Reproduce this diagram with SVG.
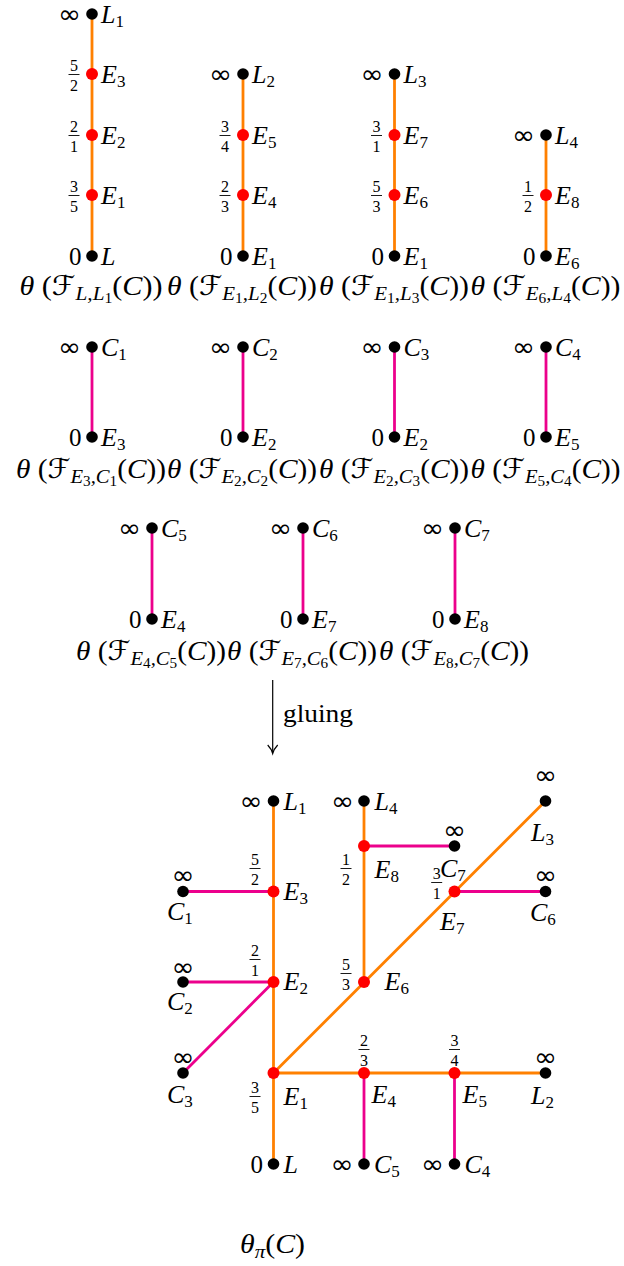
<svg xmlns="http://www.w3.org/2000/svg" width="624" height="1266" viewBox="0 0 624 1266">
<style>
text{font-family:"Liberation Serif","Times New Roman","DejaVu Serif",serif;fill:#000}
.l{font-size:26px;font-style:italic}
.s{font-size:17px;font-style:normal}
.n{font-size:25px}
.inf{font-family:"DejaVu Sans",sans-serif;font-size:26px}
.fr{font-size:16px;text-anchor:middle}
.fb{stroke:#000;stroke-width:0.9}
.cap{font-size:27px}
.i{font-style:italic}
.scr{font-family:"DejaVu Serif","DejaVu Sans",serif;font-style:italic}
.s1{font-size:19px;font-style:italic}
.s2{font-size:14px;font-style:normal}
.o{stroke:#FF8000;stroke-width:2.8;fill:none}
.m{stroke:#EC008C;stroke-width:2.8;fill:none}
.bd{fill:#000}
.rd{fill:#FF0000}
</style>
<defs>
<g id="inf"><text class="inf" text-anchor="middle" textLength="23" lengthAdjust="spacingAndGlyphs">∞</text></g>
</defs>

<g id="connectors">
<line class="o" x1="92" y1="14" x2="92" y2="256"/>
<line class="o" x1="243" y1="74" x2="243" y2="256"/>
<line class="o" x1="394.5" y1="74" x2="394.5" y2="256"/>
<line class="o" x1="546" y1="135" x2="546" y2="256"/>
<line class="m" x1="92" y1="347" x2="92" y2="437"/>
<line class="m" x1="243" y1="347" x2="243" y2="437"/>
<line class="m" x1="394.5" y1="347" x2="394.5" y2="437"/>
<line class="m" x1="546" y1="347" x2="546" y2="437"/>
<line class="m" x1="152" y1="528" x2="152" y2="619"/>
<line class="m" x1="303" y1="528" x2="303" y2="619"/>
<line class="m" x1="455" y1="528" x2="455" y2="619"/>
<line x1="272.7" y1="680" x2="272.7" y2="752" stroke="#000" stroke-width="1.2"/>
<path d="M267.7,745 Q271.5,749 272.7,753.5 Q273.9,749 277.7,745" stroke="#000" stroke-width="1.2" fill="none"/>
<line class="m" x1="183" y1="891.5" x2="273.5" y2="891.5"/>
<line class="m" x1="183" y1="982" x2="273.5" y2="982"/>
<line class="m" x1="183" y1="1073" x2="273.5" y2="982"/>
<line class="m" x1="364" y1="846" x2="454.5" y2="846"/>
<line class="m" x1="454.5" y1="891.5" x2="545.5" y2="891.5"/>
<line class="m" x1="364" y1="1073" x2="364" y2="1164"/>
<line class="m" x1="454.5" y1="1073" x2="454.5" y2="1164"/>
<line class="o" x1="273.5" y1="801" x2="273.5" y2="1164"/>
<line class="o" x1="273.5" y1="1073" x2="545.5" y2="801"/>
<line class="o" x1="273.5" y1="1073" x2="545.5" y2="1073"/>
<line class="o" x1="364" y1="801" x2="364" y2="982"/>
</g>

<g id="t1-L1"><circle class="bd" cx="92" cy="14" r="5.8"/><use href="#inf" x="69.5" y="23"/><text class="l" x="101" y="23">L<tspan class="s" dy="4">1</tspan></text></g>
<g id="t1-E3"><circle class="rd" cx="92" cy="74" r="6"/><text class="fr" x="74" y="71">5</text><line class="fb" x1="68.5" y1="74.5" x2="79.5" y2="74.5"/><text class="fr" x="74" y="90.5">2</text><text class="l" x="101" y="83">E<tspan class="s" dy="4">3</tspan></text></g>
<g id="t1-E2"><circle class="rd" cx="92" cy="135" r="6"/><text class="fr" x="74" y="132">2</text><line class="fb" x1="68.5" y1="135.5" x2="79.5" y2="135.5"/><text class="fr" x="74" y="151.5">1</text><text class="l" x="101" y="144">E<tspan class="s" dy="4">2</tspan></text></g>
<g id="t1-E1"><circle class="rd" cx="92" cy="195" r="6"/><text class="fr" x="74" y="192">3</text><line class="fb" x1="68.5" y1="195.5" x2="79.5" y2="195.5"/><text class="fr" x="74" y="211.5">5</text><text class="l" x="101" y="204">E<tspan class="s" dy="4">1</tspan></text></g>
<g id="t1-L"><circle class="bd" cx="92" cy="256" r="5.8"/><text class="n" x="81.5" y="265" text-anchor="end">0</text><text class="l" x="101" y="265">L</text></g>

<g id="t2-L2"><circle class="bd" cx="243" cy="74" r="5.8"/><use href="#inf" x="220.5" y="83"/><text class="l" x="252" y="83">L<tspan class="s" dy="4">2</tspan></text></g>
<g id="t2-E5"><circle class="rd" cx="243" cy="135" r="6"/><text class="fr" x="225" y="132">3</text><line class="fb" x1="219.5" y1="135.5" x2="230.5" y2="135.5"/><text class="fr" x="225" y="151.5">4</text><text class="l" x="252" y="144">E<tspan class="s" dy="4">5</tspan></text></g>
<g id="t2-E4"><circle class="rd" cx="243" cy="195" r="6"/><text class="fr" x="225" y="192">2</text><line class="fb" x1="219.5" y1="195.5" x2="230.5" y2="195.5"/><text class="fr" x="225" y="211.5">3</text><text class="l" x="252" y="204">E<tspan class="s" dy="4">4</tspan></text></g>
<g id="t2-E1"><circle class="bd" cx="243" cy="256" r="5.8"/><text class="n" x="232.5" y="265" text-anchor="end">0</text><text class="l" x="252" y="265">E<tspan class="s" dy="4">1</tspan></text></g>

<g id="t3-L3"><circle class="bd" cx="394.5" cy="74" r="5.8"/><use href="#inf" x="372" y="83"/><text class="l" x="403.5" y="83">L<tspan class="s" dy="4">3</tspan></text></g>
<g id="t3-E7"><circle class="rd" cx="394.5" cy="135" r="6"/><text class="fr" x="376.5" y="132">3</text><line class="fb" x1="371" y1="135.5" x2="382" y2="135.5"/><text class="fr" x="376.5" y="151.5">1</text><text class="l" x="403.5" y="144">E<tspan class="s" dy="4">7</tspan></text></g>
<g id="t3-E6"><circle class="rd" cx="394.5" cy="195" r="6"/><text class="fr" x="376.5" y="192">5</text><line class="fb" x1="371" y1="195.5" x2="382" y2="195.5"/><text class="fr" x="376.5" y="211.5">3</text><text class="l" x="403.5" y="204">E<tspan class="s" dy="4">6</tspan></text></g>
<g id="t3-E1"><circle class="bd" cx="394.5" cy="256" r="5.8"/><text class="n" x="384" y="265" text-anchor="end">0</text><text class="l" x="403.5" y="265">E<tspan class="s" dy="4">1</tspan></text></g>

<g id="t4-L4"><circle class="bd" cx="546" cy="135" r="5.8"/><use href="#inf" x="523.5" y="144"/><text class="l" x="555" y="144">L<tspan class="s" dy="4">4</tspan></text></g>
<g id="t4-E8"><circle class="rd" cx="546" cy="195" r="6"/><text class="fr" x="528" y="192">1</text><line class="fb" x1="522.5" y1="195.5" x2="533.5" y2="195.5"/><text class="fr" x="528" y="211.5">2</text><text class="l" x="555" y="204">E<tspan class="s" dy="4">8</tspan></text></g>
<g id="t4-E6"><circle class="bd" cx="546" cy="256" r="5.8"/><text class="n" x="535.5" y="265" text-anchor="end">0</text><text class="l" x="555" y="265">E<tspan class="s" dy="4">6</tspan></text></g>

<g id="captions1">
<text class="cap" x="91" y="295" text-anchor="middle" textLength="143" lengthAdjust="spacingAndGlyphs"><tspan class="i">θ</tspan> (<tspan class="scr">ℱ</tspan><tspan class="s1" dy="5">L,L</tspan><tspan class="s2" dy="3">1</tspan><tspan dy="-8">(</tspan><tspan class="i">C</tspan>))</text>
<text class="cap" x="242" y="295" text-anchor="middle" textLength="150" lengthAdjust="spacingAndGlyphs"><tspan class="i">θ</tspan> (<tspan class="scr">ℱ</tspan><tspan class="s1" dy="5">E</tspan><tspan class="s2" dy="3">1</tspan><tspan class="s1" dy="-3">,L</tspan><tspan class="s2" dy="3">2</tspan><tspan dy="-8">(</tspan><tspan class="i">C</tspan>))</text>
<text class="cap" x="394" y="295" text-anchor="middle" textLength="150" lengthAdjust="spacingAndGlyphs"><tspan class="i">θ</tspan> (<tspan class="scr">ℱ</tspan><tspan class="s1" dy="5">E</tspan><tspan class="s2" dy="3">1</tspan><tspan class="s1" dy="-3">,L</tspan><tspan class="s2" dy="3">3</tspan><tspan dy="-8">(</tspan><tspan class="i">C</tspan>))</text>
<text class="cap" x="545.5" y="295" text-anchor="middle" textLength="150" lengthAdjust="spacingAndGlyphs"><tspan class="i">θ</tspan> (<tspan class="scr">ℱ</tspan><tspan class="s1" dy="5">E</tspan><tspan class="s2" dy="3">6</tspan><tspan class="s1" dy="-3">,L</tspan><tspan class="s2" dy="3">4</tspan><tspan dy="-8">(</tspan><tspan class="i">C</tspan>))</text>
</g>

<g id="r2-C1"><circle class="bd" cx="92" cy="347" r="5.8"/><use href="#inf" x="69.5" y="356"/><text class="l" x="101" y="356">C<tspan class="s" dy="4">1</tspan></text></g>
<g id="r2-E3"><circle class="bd" cx="92" cy="437" r="5.8"/><text class="n" x="81.5" y="446" text-anchor="end">0</text><text class="l" x="101" y="446">E<tspan class="s" dy="4">3</tspan></text></g>
<g id="r2-C2"><circle class="bd" cx="243" cy="347" r="5.8"/><use href="#inf" x="220.5" y="356"/><text class="l" x="252" y="356">C<tspan class="s" dy="4">2</tspan></text></g>
<g id="r2-E2a"><circle class="bd" cx="243" cy="437" r="5.8"/><text class="n" x="232.5" y="446" text-anchor="end">0</text><text class="l" x="252" y="446">E<tspan class="s" dy="4">2</tspan></text></g>
<g id="r2-C3"><circle class="bd" cx="394.5" cy="347" r="5.8"/><use href="#inf" x="372" y="356"/><text class="l" x="403.5" y="356">C<tspan class="s" dy="4">3</tspan></text></g>
<g id="r2-E2b"><circle class="bd" cx="394.5" cy="437" r="5.8"/><text class="n" x="384" y="446" text-anchor="end">0</text><text class="l" x="403.5" y="446">E<tspan class="s" dy="4">2</tspan></text></g>
<g id="r2-C4"><circle class="bd" cx="546" cy="347" r="5.8"/><use href="#inf" x="523.5" y="356"/><text class="l" x="555" y="356">C<tspan class="s" dy="4">4</tspan></text></g>
<g id="r2-E5"><circle class="bd" cx="546" cy="437" r="5.8"/><text class="n" x="535.5" y="446" text-anchor="end">0</text><text class="l" x="555" y="446">E<tspan class="s" dy="4">5</tspan></text></g>

<g id="captions2">
<text class="cap" x="91" y="478" text-anchor="middle" textLength="150" lengthAdjust="spacingAndGlyphs"><tspan class="i">θ</tspan> (<tspan class="scr">ℱ</tspan><tspan class="s1" dy="5">E</tspan><tspan class="s2" dy="3">3</tspan><tspan class="s1" dy="-3">,C</tspan><tspan class="s2" dy="3">1</tspan><tspan dy="-8">(</tspan><tspan class="i">C</tspan>))</text>
<text class="cap" x="242" y="478" text-anchor="middle" textLength="150" lengthAdjust="spacingAndGlyphs"><tspan class="i">θ</tspan> (<tspan class="scr">ℱ</tspan><tspan class="s1" dy="5">E</tspan><tspan class="s2" dy="3">2</tspan><tspan class="s1" dy="-3">,C</tspan><tspan class="s2" dy="3">2</tspan><tspan dy="-8">(</tspan><tspan class="i">C</tspan>))</text>
<text class="cap" x="394" y="478" text-anchor="middle" textLength="150" lengthAdjust="spacingAndGlyphs"><tspan class="i">θ</tspan> (<tspan class="scr">ℱ</tspan><tspan class="s1" dy="5">E</tspan><tspan class="s2" dy="3">2</tspan><tspan class="s1" dy="-3">,C</tspan><tspan class="s2" dy="3">3</tspan><tspan dy="-8">(</tspan><tspan class="i">C</tspan>))</text>
<text class="cap" x="545.5" y="478" text-anchor="middle" textLength="150" lengthAdjust="spacingAndGlyphs"><tspan class="i">θ</tspan> (<tspan class="scr">ℱ</tspan><tspan class="s1" dy="5">E</tspan><tspan class="s2" dy="3">5</tspan><tspan class="s1" dy="-3">,C</tspan><tspan class="s2" dy="3">4</tspan><tspan dy="-8">(</tspan><tspan class="i">C</tspan>))</text>
</g>

<g id="r3-C5"><circle class="bd" cx="152" cy="528" r="5.8"/><use href="#inf" x="129.5" y="537"/><text class="l" x="161" y="537">C<tspan class="s" dy="4">5</tspan></text></g>
<g id="r3-E4"><circle class="bd" cx="152" cy="619" r="5.8"/><text class="n" x="141.5" y="628" text-anchor="end">0</text><text class="l" x="161" y="628">E<tspan class="s" dy="4">4</tspan></text></g>
<g id="r3-C6"><circle class="bd" cx="303" cy="528" r="5.8"/><use href="#inf" x="280.5" y="537"/><text class="l" x="312" y="537">C<tspan class="s" dy="4">6</tspan></text></g>
<g id="r3-E7"><circle class="bd" cx="303" cy="619" r="5.8"/><text class="n" x="292.5" y="628" text-anchor="end">0</text><text class="l" x="312" y="628">E<tspan class="s" dy="4">7</tspan></text></g>
<g id="r3-C7"><circle class="bd" cx="455" cy="528" r="5.8"/><use href="#inf" x="432.5" y="537"/><text class="l" x="464" y="537">C<tspan class="s" dy="4">7</tspan></text></g>
<g id="r3-E8"><circle class="bd" cx="455" cy="619" r="5.8"/><text class="n" x="444.5" y="628" text-anchor="end">0</text><text class="l" x="464" y="628">E<tspan class="s" dy="4">8</tspan></text></g>

<g id="captions3">
<text class="cap" x="151" y="660" text-anchor="middle" textLength="150" lengthAdjust="spacingAndGlyphs"><tspan class="i">θ</tspan> (<tspan class="scr">ℱ</tspan><tspan class="s1" dy="5">E</tspan><tspan class="s2" dy="3">4</tspan><tspan class="s1" dy="-3">,C</tspan><tspan class="s2" dy="3">5</tspan><tspan dy="-8">(</tspan><tspan class="i">C</tspan>))</text>
<text class="cap" x="302" y="660" text-anchor="middle" textLength="150" lengthAdjust="spacingAndGlyphs"><tspan class="i">θ</tspan> (<tspan class="scr">ℱ</tspan><tspan class="s1" dy="5">E</tspan><tspan class="s2" dy="3">7</tspan><tspan class="s1" dy="-3">,C</tspan><tspan class="s2" dy="3">6</tspan><tspan dy="-8">(</tspan><tspan class="i">C</tspan>))</text>
<text class="cap" x="454" y="660" text-anchor="middle" textLength="150" lengthAdjust="spacingAndGlyphs"><tspan class="i">θ</tspan> (<tspan class="scr">ℱ</tspan><tspan class="s1" dy="5">E</tspan><tspan class="s2" dy="3">8</tspan><tspan class="s1" dy="-3">,C</tspan><tspan class="s2" dy="3">7</tspan><tspan dy="-8">(</tspan><tspan class="i">C</tspan>))</text>
</g>

<text id="gluing" x="283" y="722" font-size="26" textLength="70" lengthAdjust="spacingAndGlyphs">gluing</text>

<g id="b-L1"><circle class="bd" cx="273.5" cy="801" r="5.8"/><use href="#inf" x="251" y="810"/><text class="l" x="283.5" y="810">L<tspan class="s" dy="4">1</tspan></text></g>
<g id="b-L4"><circle class="bd" cx="364" cy="801" r="5.8"/><use href="#inf" x="342.5" y="810"/><text class="l" x="374.5" y="810">L<tspan class="s" dy="4">4</tspan></text></g>
<g id="b-L3"><circle class="bd" cx="545.5" cy="801" r="5.8"/><use href="#inf" x="545.5" y="784"/><text class="l" x="531" y="841">L<tspan class="s" dy="4">3</tspan></text></g>
<g id="b-C7"><circle class="bd" cx="454.5" cy="846" r="5.8"/><use href="#inf" x="454.5" y="839"/><text class="l" x="440" y="877">C<tspan class="s" dy="4">7</tspan></text></g>
<g id="b-E8"><circle class="rd" cx="364" cy="846" r="6"/><text class="fr" x="346" y="865">1</text><line class="fb" x1="340.5" y1="868.5" x2="351.5" y2="868.5"/><text class="fr" x="346" y="884.5">2</text><text class="l" x="374.5" y="878">E<tspan class="s" dy="4">8</tspan></text></g>
<g id="b-C1"><circle class="bd" cx="183" cy="891.5" r="5.8"/><use href="#inf" x="183" y="884"/><text class="l" x="167" y="920">C<tspan class="s" dy="4">1</tspan></text></g>
<g id="b-E3"><circle class="rd" cx="273.5" cy="891.5" r="6"/><text class="fr" x="255" y="865">5</text><line class="fb" x1="249.5" y1="868.5" x2="260.5" y2="868.5"/><text class="fr" x="255" y="884.5">2</text><text class="l" x="283.5" y="900">E<tspan class="s" dy="4">3</tspan></text></g>
<g id="b-E7"><circle class="rd" cx="454.5" cy="891.5" r="6"/><text class="fr" x="436.7" y="879">3</text><line class="fb" x1="431.2" y1="882.5" x2="442.2" y2="882.5"/><text class="fr" x="436.7" y="898.5">1</text><text class="l" x="440" y="930">E<tspan class="s" dy="4">7</tspan></text></g>
<g id="b-C6"><circle class="bd" cx="545.5" cy="891.5" r="5.8"/><use href="#inf" x="545.5" y="884"/><text class="l" x="530" y="921">C<tspan class="s" dy="4">6</tspan></text></g>
<g id="b-C2"><circle class="bd" cx="183" cy="982" r="5.8"/><use href="#inf" x="183" y="976"/><text class="l" x="167" y="1010">C<tspan class="s" dy="4">2</tspan></text></g>
<g id="b-E2"><circle class="rd" cx="273.5" cy="982" r="6"/><text class="fr" x="255" y="956">2</text><line class="fb" x1="249.5" y1="959.5" x2="260.5" y2="959.5"/><text class="fr" x="255" y="975.5">1</text><text class="l" x="283.5" y="990">E<tspan class="s" dy="4">2</tspan></text></g>
<g id="b-E6"><circle class="rd" cx="364" cy="982" r="6"/><text class="fr" x="346" y="970">5</text><line class="fb" x1="340.5" y1="973.5" x2="351.5" y2="973.5"/><text class="fr" x="346" y="989.5">3</text><text class="l" x="384.5" y="990">E<tspan class="s" dy="4">6</tspan></text></g>
<g id="b-C3"><circle class="bd" cx="183" cy="1073" r="5.8"/><use href="#inf" x="183" y="1066"/><text class="l" x="167" y="1103">C<tspan class="s" dy="4">3</tspan></text></g>
<g id="b-E1"><circle class="rd" cx="273.5" cy="1073" r="6"/><text class="fr" x="255" y="1093">3</text><line class="fb" x1="249.5" y1="1096.5" x2="260.5" y2="1096.5"/><text class="fr" x="255" y="1112.5">5</text><text class="l" x="283.5" y="1105">E<tspan class="s" dy="4">1</tspan></text></g>
<g id="b-E4"><circle class="rd" cx="364" cy="1073" r="6"/><text class="fr" x="364" y="1046">2</text><line class="fb" x1="358.5" y1="1049.5" x2="369.5" y2="1049.5"/><text class="fr" x="364" y="1065.5">3</text><text class="l" x="371.5" y="1103">E<tspan class="s" dy="4">4</tspan></text></g>
<g id="b-E5"><circle class="rd" cx="454.5" cy="1073" r="6"/><text class="fr" x="454.5" y="1046">3</text><line class="fb" x1="449" y1="1049.5" x2="460" y2="1049.5"/><text class="fr" x="454.5" y="1065.5">4</text><text class="l" x="462.5" y="1103">E<tspan class="s" dy="4">5</tspan></text></g>
<g id="b-L2"><circle class="bd" cx="545.5" cy="1073" r="5.8"/><use href="#inf" x="545.5" y="1066"/><text class="l" x="531" y="1104">L<tspan class="s" dy="4">2</tspan></text></g>
<g id="b-L"><circle class="bd" cx="273.5" cy="1164" r="5.8"/><text class="n" x="263" y="1173" text-anchor="end">0</text><text class="l" x="283.5" y="1173">L</text></g>
<g id="b-C5"><circle class="bd" cx="364" cy="1164" r="5.8"/><use href="#inf" x="342" y="1173"/><text class="l" x="374" y="1173">C<tspan class="s" dy="4">5</tspan></text></g>
<g id="b-C4"><circle class="bd" cx="454.5" cy="1164" r="5.8"/><use href="#inf" x="432.5" y="1173"/><text class="l" x="464.5" y="1173">C<tspan class="s" dy="4">4</tspan></text></g>

<text id="title" class="cap" x="240" y="1253" font-size="28" textLength="65" lengthAdjust="spacingAndGlyphs"><tspan class="i">θ</tspan><tspan class="s1" dy="5">π</tspan><tspan dy="-5">(</tspan><tspan class="i">C</tspan>)</text>
</svg>
